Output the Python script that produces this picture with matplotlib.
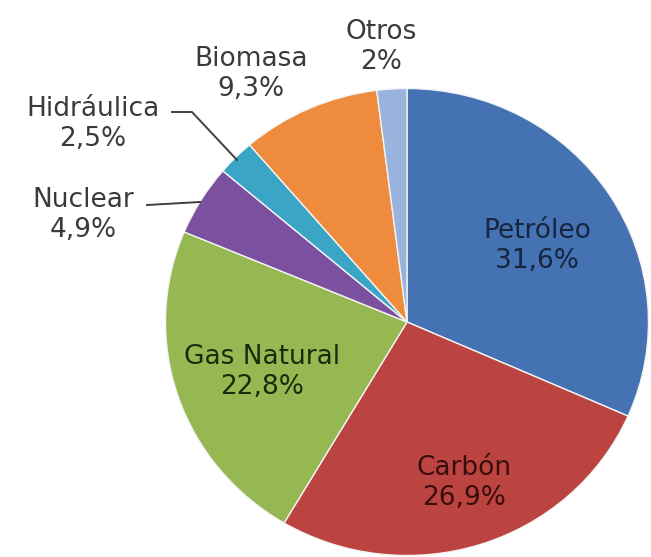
import matplotlib.pyplot as plt

labels = ['Petróleo', 'Carbón', 'Gas Natural', 'Nuclear', 'Hidráulica', 'Biomasa', 'Otros']
values = [31.6, 26.9, 22.8, 4.9, 2.5, 9.3, 2.0]
value_text = ['31,6%', '26,9%', '22,8%', '4,9%', '2,5%', '9,3%', '2%']

colors = ['#4472B2', '#BB4340', '#95B852', '#7B509E', '#3BA5C5', '#EF8B3C', '#9AB3DD']
text_colors = ['#17253f', '#3a0d0d', '#1c2a0c', '#3a3a3a', '#3a3a3a', '#3a3a3a', '#3a3a3a']

# label block centres in pixels (from top-left)
label_pos = [(537, 246), (464, 483), (262, 372), (83, 215), (93, 124), (251, 74), (381, 47)]

W, H = 651, 557
# pie is a touch squashed vertically in the original
cx, cy = 407, 322
rx, ry = 241.5, 233.5
k = rx / ry

plt.rcParams['font.family'] = ['DejaVu Sans']

fig = plt.figure(figsize=(W / 100, H / 100), dpi=100)
ax = fig.add_axes([0, 0, 1, 1])

ax.pie(values, colors=colors, startangle=90, counterclock=False,
       center=(cx, (H - cy) * k), radius=rx,
       wedgeprops=dict(edgecolor='#f4f4f4', linewidth=1.0))
ax.set_aspect('auto')
ax.set_xlim(0, W)
ax.set_ylim(0, H * k)
ax.axis('off')

for lab, val, (px, py), c in zip(labels, value_text, label_pos, text_colors):
    ax.text(px / W, 1 - py / H, lab + '\n' + val, transform=ax.transAxes,
            ha='center', va='center', fontsize=19, color=c, linespacing=1.22)

# leader lines for the small slices
ax.plot([172 / W, 192 / W, 237 / W], [1 - 112 / H, 1 - 112 / H, 1 - 160 / H],
        transform=ax.transAxes, color='#404040', lw=1.4)
ax.plot([147 / W, 200 / W], [1 - 205 / H, 1 - 202 / H],
        transform=ax.transAxes, color='#404040', lw=1.4)

fig.savefig('out.png', dpi=100, facecolor='white')
